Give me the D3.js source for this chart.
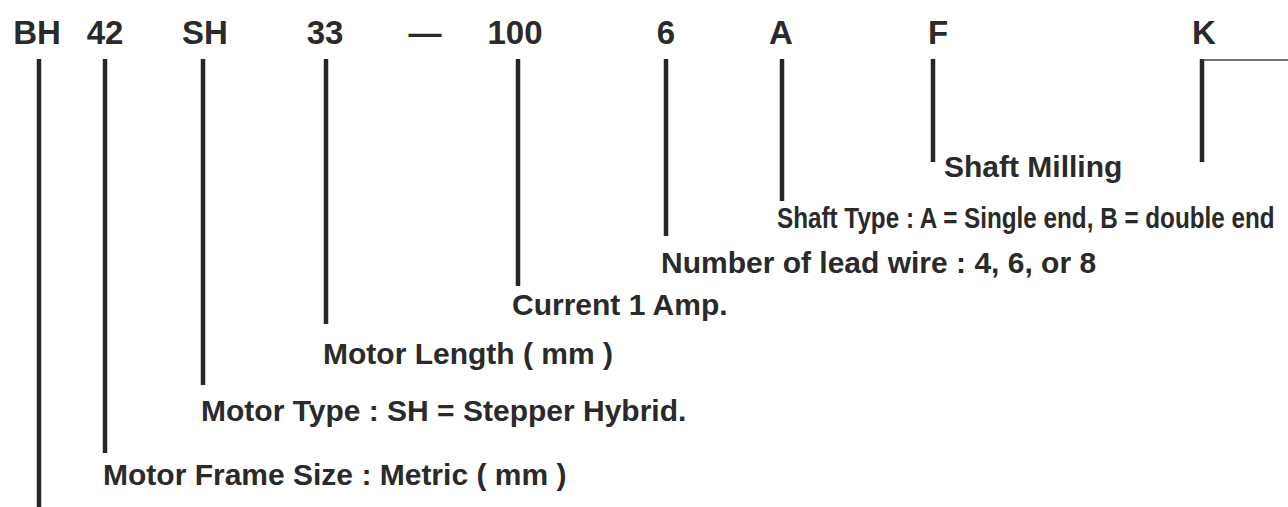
<!DOCTYPE html>
<html>
<head>
<meta charset="utf-8">
<script src="https://cdn.jsdelivr.net/npm/d3@7"></script>
<style>
  html, body { margin: 0; padding: 0; background: #fff; }
  svg text { font-family: "Liberation Sans", Arial, Helvetica, sans-serif; font-weight: bold; fill: #2a2a2a; }
</style>
</head>
<body>
<div id="chart"></div>
<script>
// part number segments, left to right
var codes = ["BH", "42", "SH", "33", "—", "100", "6", "A", "F", "K"];
var descriptions = [
  "",
  "Motor Frame Size : Metric ( mm )",
  "Motor Type : SH = Stepper Hybrid.",
  "Motor Length ( mm )",
  "",
  "Current 1 Amp.",
  "Number of lead wire : 4, 6, or 8",
  "Shaft Type : A = Single end, B = double end",
  "Shaft Milling",
  ""
];

// layout (pixels)
var codeX     = [37, 105, 205, 325, 425, 515, 666, 781, 938, 1204];
var leaderX   = [39, 105, 203, 326, null, 518, 666, 782, 933, 1202];
var leaderEnd = [507, 453, 385, 324, null, 286, 236, 201, 162, 162];
var labelX    = [null, 103, 201, 323, null, 512, 661, 777, 944, null];
var labelY    = [null, 485, 421, 364, null, 315, 273, 228, 177, null];

var width = 1288, height = 507;
var lineTop = 59, codeBaseline = 44;

var svg = d3.select("#chart").append("svg")
  .attr("width", width)
  .attr("height", height);

var xCode = d3.scaleOrdinal().domain(codes).range(codeX);
var xLine = d3.scaleOrdinal().domain(codes).range(leaderX);
var yEnd = d3.scaleOrdinal().domain(codes).range(leaderEnd);
var xLabel = d3.scaleOrdinal().domain(codes).range(labelX);
var yLabel = d3.scaleOrdinal().domain(codes).range(labelY);

svg.selectAll("text.code")
  .data(codes)
  .enter().append("text")
  .attr("class", "code")
  .attr("x", d => xCode(d))
  .attr("y", codeBaseline)
  .attr("text-anchor", "middle")
  .style("font-size", "33px")
  .text(d => d);

var withLine = codes.filter(d => xLine(d) != null);
svg.selectAll("line.leader")
  .data(withLine)
  .enter().append("line")
  .attr("class", "leader")
  .attr("x1", d => xLine(d))
  .attr("x2", d => xLine(d))
  .attr("y1", lineTop)
  .attr("y2", d => yEnd(d))
  .attr("stroke", "#262626")
  .attr("stroke-width", 4.5);

// K has a thin rule running off to the right edge
svg.append("line")
  .attr("x1", xLine("K"))
  .attr("x2", width)
  .attr("y1", lineTop + 1)
  .attr("y2", lineTop + 1)
  .attr("stroke", "#444")
  .attr("stroke-width", 1.5);

var labelled = codes.map((c, i) => ({code: c, text: descriptions[i]})).filter(d => d.text);
var labels = svg.selectAll("text.desc")
  .data(labelled)
  .enter().append("text")
  .attr("class", "desc")
  .attr("transform", d => "translate(" + xLabel(d.code) + "," + yLabel(d.code) + ")")
  .style("font-size", "30px")
  .text(d => d.text);

// the shaft type note is set in a condensed face: squeeze it to ~498px
labels.filter(d => d.code === "A")
  .attr("transform", function(d) {
    var k = 498 / this.getComputedTextLength();
    return "translate(" + xLabel(d.code) + "," + yLabel(d.code) + ") scale(" + k + ",1)";
  });
</script>
</body>
</html>
